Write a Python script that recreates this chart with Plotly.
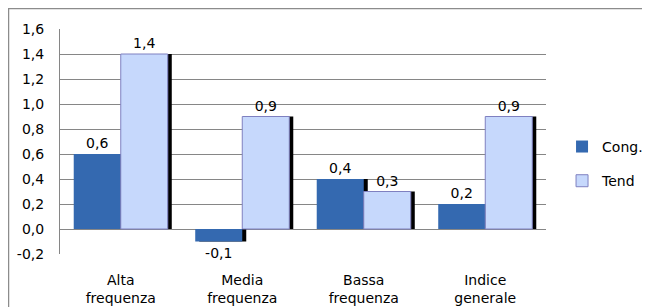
import plotly.graph_objects as go

categories = ["Alta<br>frequenza", "Media<br>frequenza", "Bassa<br>frequenza", "Indice<br>generale"]
cong = [0.6, -0.1, 0.4, 0.2]
tend = [1.4, 0.9, 0.3, 0.9]
series_names = ["Cong.", "Tend"]
tick_vals = [-0.2, 0.0, 0.2, 0.4, 0.6, 0.8, 1.0, 1.2, 1.4, 1.6]
tick_text = ["-0,2", "0,0", "0,2", "0,4", "0,6", "0,8", "1,0", "1,2", "1,4", "1,6"]


def fmt(v):
    return f"{v:.1f}".replace(".", ",")


FONT = "DejaVu Sans"
FS = 14
# page body has an 8px margin; figure is sized to fit the window
W, H = 642, 299
L, T = 52, 21
plot_w, plot_h = 486, 225
shift_px = 4
x_shift = shift_px / (plot_w / 4)
y_shift = shift_px / (plot_h / 1.8)

fig = go.Figure()

# shadows on base axes (drawn beneath)
for vals in (cong, tend):
    fig.add_trace(go.Bar(x=categories, y=vals, base=y_shift,
                         marker=dict(color="black", line=dict(width=0)),
                         showlegend=False, hoverinfo="skip", xaxis="x", yaxis="y"))

colors = ["#3469b0", "#c6d8fc"]
borders = ["#3469b0", "#7f80c0"]
bwidth = [0, 1]
for i, (name, vals) in enumerate(zip(series_names, (cong, tend))):
    fig.add_trace(go.Bar(x=categories, y=vals, name=name,
                         marker=dict(color=colors[i], line=dict(color=borders[i], width=bwidth[i])),
                         text=[fmt(v) for v in vals], textposition="outside", cliponaxis=False,
                         textfont=dict(family=FONT, size=FS, color="black"),
                         legendgroup=name, xaxis="x2", yaxis="y2"))

fig.update_layout(
    width=W, height=H,
    margin=dict(l=L, r=W - L - plot_w, t=T, b=H - T - plot_h, autoexpand=False),
    paper_bgcolor="white", plot_bgcolor="white",
    barmode="group", bargap=0.226, bargroupgap=0,
    font=dict(family=FONT, size=FS, color="black"),
    xaxis=dict(range=[-0.5 - x_shift, 3.5 - x_shift], visible=False, fixedrange=True),
    yaxis=dict(range=[-0.2 + y_shift, 1.6 + y_shift], visible=False, fixedrange=True),
    xaxis2=dict(overlaying="x", range=[-0.5, 3.5], showgrid=False, showline=False,
                ticks="", ticklabelstandoff=16, tickfont=dict(family=FONT, size=FS)),
    yaxis2=dict(overlaying="y", range=[-0.2, 1.6], tickvals=tick_vals, ticktext=tick_text,
                showgrid=True, gridcolor="#868686", gridwidth=1, zeroline=False,
                showline=True, linecolor="#868686", linewidth=1, ticks="",
                ticklabelstandoff=12, tickfont=dict(family=FONT, size=FS)),
    legend=dict(x=1.033, y=0.547, xanchor="left", yanchor="top", tracegroupgap=13,
                font=dict(family=FONT, size=FS), bgcolor="rgba(0,0,0,0)"),
    shapes=[dict(type="rect", xref="paper", yref="paper",
                 x0=(0.5 - L) / plot_w, x1=1.4, y0=-0.5, y1=(T + plot_h - 0.5) / plot_h,
                 line=dict(color="#8c8c8c", width=1.5), layer="below")],
)

fig.write_html("out.html")
